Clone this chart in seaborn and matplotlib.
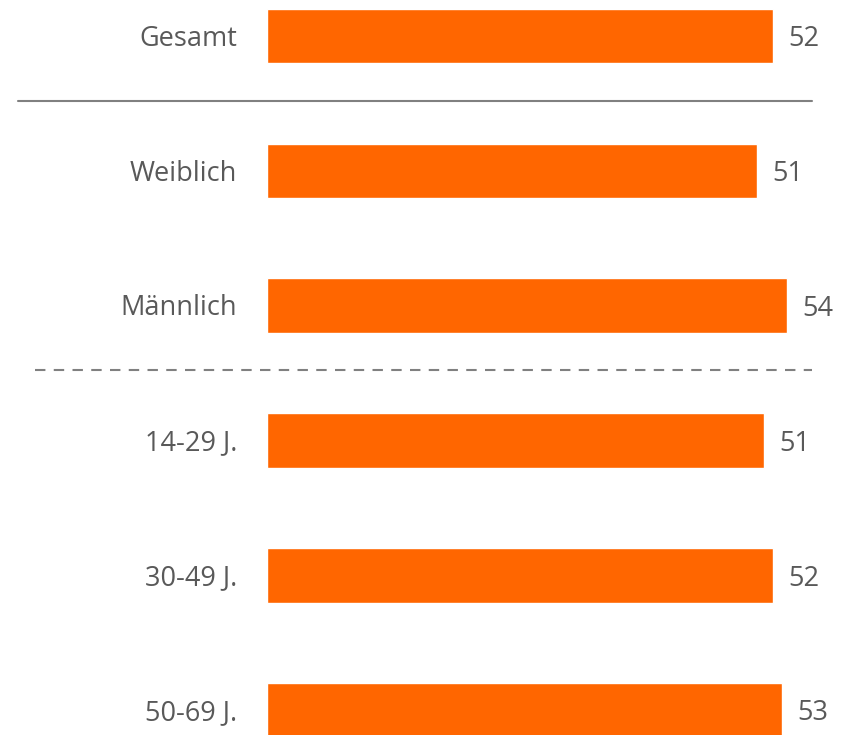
import pandas as pd
import matplotlib
matplotlib.use("Agg")
import matplotlib.pyplot as plt
import seaborn as sns

# Daten
kategorien = ["Gesamt", "Weiblich", "Männlich", "14-29 J.", "30-49 J.", "50-69 J."]
werte = [52.3, 50.6, 53.7, 51.3, 52.3, 53.2]
beschriftung = ["52", "51", "54", "51", "52", "53"]

df = pd.DataFrame({"gruppe": kategorien, "wert": werte})

sns.set_theme(style="white")
plt.rcParams["font.family"] = ["Open Sans", "DejaVu Sans"]

fig = plt.figure(figsize=(8.5, 7.35), dpi=100)
ax = fig.add_axes([0, 0, 1, 1])

sns.barplot(data=df, x="wert", y="gruppe", orient="h", color="#FF6600",
            saturation=1, width=0.405, ax=ax)

# Beschriftungen
for i, (v, txt) in enumerate(zip(werte, beschriftung)):
    ax.text(v + 1.6, i + 0.025, txt, va="center", ha="left",
            fontsize=19.5, color="#595959")
    ax.text(-3.1, i + 0.02, kategorien[i], va="center", ha="right",
            fontsize=19.5, color="#595959")

# Trennlinien
ax.plot([-25.7, 56.3], [0.48, 0.48], color="#808080", lw=1.5)
ax.plot([-24.0, 56.3], [2.48, 2.48], color="#808080", lw=1.5,
        linestyle=(0, (5, 4)))

ax.set_xlim(-27.58, 60.23)
ax.set_ylim(5.185, -0.267)
ax.set_axis_off()

fig.savefig("out.png", dpi=100)
